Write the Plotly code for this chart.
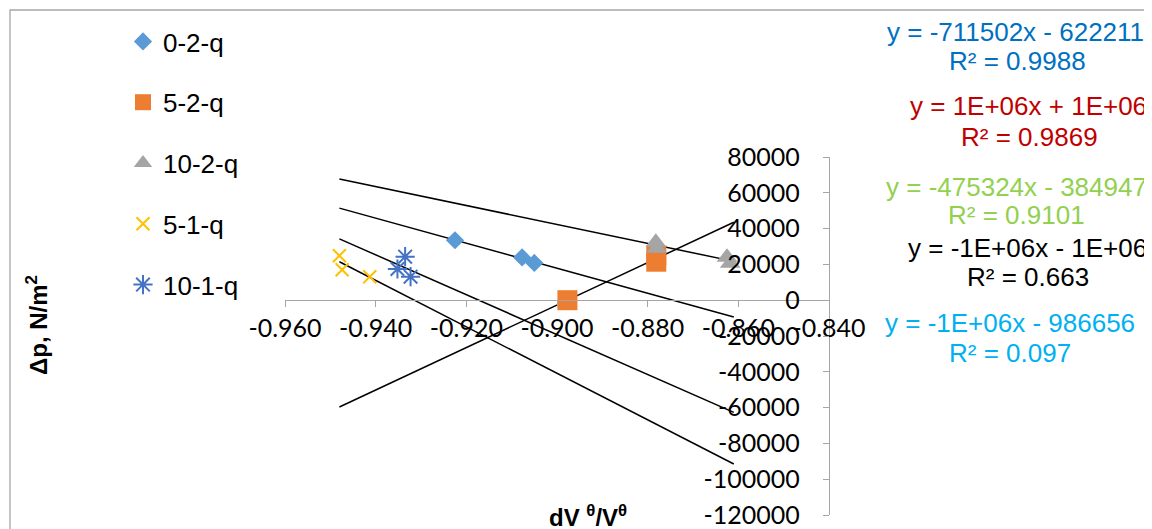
import numpy as np
import plotly.graph_objects as go

# ---------------- data ----------------
series_names = ["0-2-q", "5-2-q", "10-2-q", "5-1-q", "10-1-q"]
x_0_2_q = [-0.9225, -0.9077, -0.9050]
y_0_2_q = [33500, 23900, 20800]
x_5_2_q = [-0.8977, -0.8781, -0.8781]
y_5_2_q = [0, 25000, 21500]
x_10_2_q = [-0.8782, -0.8780, -0.8625, -0.8618]
y_10_2_q = [32400, 29000, 24000, 20700]
x_5_1_q = [-0.9480, -0.9474, -0.9413]
y_5_1_q = [24860, 17040, 13130]
x_10_1_q = [-0.9335, -0.9352, -0.9323]
y_10_1_q = [24300, 17430, 13130]

trend_x_range = [-0.948, -0.861]

x_tick_vals = [-0.96, -0.94, -0.92, -0.90, -0.88, -0.86, -0.84]
x_tick_text = ["-0.960", "-0.940", "-0.920", "-0.900", "-0.880", "-0.860", "-0.840"]
y_tick_vals = [80000, 60000, 40000, 20000, 0, -20000, -40000, -60000, -80000, -100000, -120000]
y_tick_text = ["80000", "60000", "40000", "20000", "0", "-20000", "-40000", "-60000",
               "-80000", "-100000", "-120000"]

eq_texts = ["y = -711502x - 622211", "y = 1E+06x + 1E+06", "y = -475324x - 384947",
            "y = -1E+06x - 1E+06", "y = -1E+06x - 986656"]
r2_texts = ["R² = 0.9988", "R² = 0.9869", "R² = 0.9101", "R² = 0.663", "R² = 0.097"]
eq_colors = ["#0070C0", "#C00000", "#92D050", "#000000", "#00B0F0"]

# ---------------- style ----------------
series_x = [x_0_2_q, x_5_2_q, x_10_2_q, x_5_1_q, x_10_1_q]
series_y = [y_0_2_q, y_5_2_q, y_10_2_q, y_5_1_q, y_10_1_q]
marker_styles = [
    dict(symbol="diamond", size=14, color="#5B9BD5"),
    dict(symbol="square", size=20, color="#ED7D31"),
    dict(symbol="triangle-up", size=18, color="#A5A5A5"),
    dict(symbol="x-thin-open", size=13, color="#FFC000", line=dict(color="#FFC000", width=2)),
    dict(symbol="asterisk-open", size=16, color="#4472C4", line=dict(color="#4472C4", width=2)),
]

# page pixel positions of the plot area (the page body has an 8px margin)
PAGE_W, PAGE_H, BODY = 1152, 529, 8
L, R, T, B = 285, 829, 157, 515
W, H = PAGE_W - BODY, PAGE_H - BODY


def px_x(p):
    return (p - L) / (R - L)


def px_y(p):
    return (B - p) / (B - T)


fig = go.Figure()

# trendlines (drawn first, underneath markers)
for xs, ys in zip(series_x, series_y):
    k, b = np.polyfit(xs, ys, 1)
    tx = np.array(trend_x_range)
    fig.add_trace(go.Scatter(x=tx, y=k * tx + b, mode="lines",
                             line=dict(color="black", width=1.5),
                             showlegend=False, hoverinfo="skip"))

for i, (name, xs, ys, ms) in enumerate(zip(series_names, series_x, series_y, marker_styles)):
    fig.add_trace(go.Scatter(x=xs, y=ys, mode="markers", name=name, marker=ms,
                             legendgroup="g%d" % i))

axis_color = "#A6A6A6"
tick_font = dict(family="Lato, Calibri, sans-serif", size=25, color="#000000")

fig.update_layout(
    width=W, height=H,
    margin=dict(l=L - BODY, r=PAGE_W - R, t=T - BODY, b=PAGE_H - B, pad=0, autoexpand=False),
    paper_bgcolor="white", plot_bgcolor="white",
    showlegend=True,
    legend=dict(x=px_x(123), xanchor="left", y=px_y(18), yanchor="top",
                font=dict(family="Liberation Sans, Arial", size=26, color="#000000"),
                tracegroupgap=24, bgcolor="rgba(0,0,0,0)", itemwidth=30,
                maxheight=450),
    xaxis=dict(range=[-0.96, -0.84], domain=[0, 1], anchor="free", position=px_y(300),
               side="bottom", showgrid=False, zeroline=False,
               showline=True, linecolor=axis_color, linewidth=1.3,
               ticks="outside", ticklen=6, tickcolor=axis_color,
               tickvals=x_tick_vals, ticktext=x_tick_text, tickfont=tick_font),
    yaxis=dict(range=[-120000, 80000], domain=[0, 1], anchor="free", position=1.0,
               side="left", showgrid=False, zeroline=False,
               showline=True, linecolor=axis_color, linewidth=1.3,
               ticks="outside", ticklen=6, tickcolor=axis_color,
               tickvals=y_tick_vals, ticktext=y_tick_text, tickfont=tick_font,
               ticklabelstandoff=18),
)

# chart border
fig.add_shape(type="rect", xref="paper", yref="paper",
              x0=px_x(10), x1=px_x(1400), y0=px_y(700), y1=px_y(10),
              line=dict(color="#A6A6A6", width=1.3), fillcolor="rgba(0,0,0,0)", layer="below")

# equation labels
eq_pos = [(1015, 32, 1017, 61), (1028, 106, 1029, 137), (1016, 187, 1016, 215),
          (1027, 248, 1028, 277), (1010, 323, 1010, 353)]
eq_font = "Liberation Sans, Arial"
for txt, r2, col, (ex, ey, rx, ry) in zip(eq_texts, r2_texts, eq_colors, eq_pos):
    fig.add_annotation(x=px_x(ex), y=px_y(ey), xref="paper", yref="paper", text=txt,
                       showarrow=False, xanchor="center", yanchor="middle",
                       font=dict(family=eq_font, size=26, color=col))
    fig.add_annotation(x=px_x(rx), y=px_y(ry), xref="paper", yref="paper", text=r2,
                       showarrow=False, xanchor="center", yanchor="middle",
                       font=dict(family=eq_font, size=26, color=col))

# axis titles
fig.add_annotation(x=px_x(37), y=px_y(325), xref="paper", yref="paper",
                   text="<b>Δp, N/m<sup>2</sup></b>", textangle=-90, showarrow=False,
                   xanchor="center", yanchor="middle",
                   font=dict(family=eq_font, size=24, color="#000000"))
fig.add_annotation(x=px_x(588), y=px_y(516), xref="paper", yref="paper",
                   text="<b>dV <sup>θ</sup>/V<sup>θ</sup></b>", showarrow=False,
                   xanchor="center", yanchor="middle",
                   font=dict(family=eq_font, size=24, color="#000000"))

fig.write_html("out.html")
